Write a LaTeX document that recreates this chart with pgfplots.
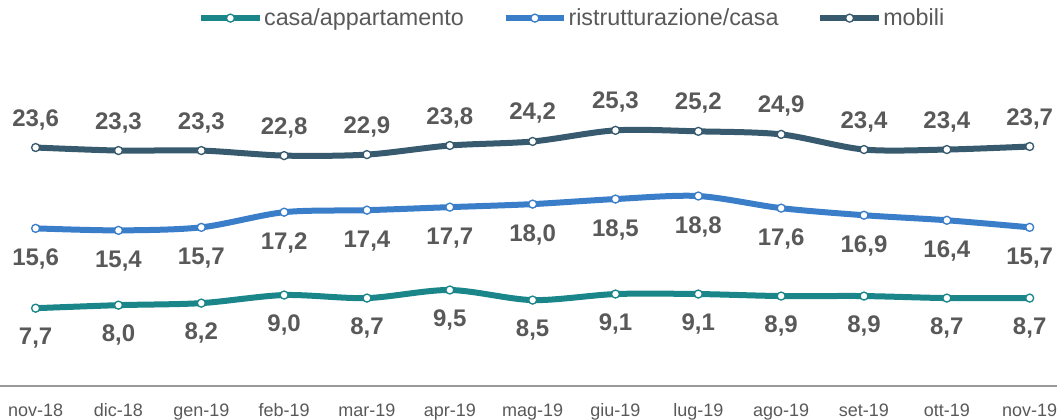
\documentclass[border=0pt]{standalone}
\usepackage{pgfplots}
\pgfplotsset{compat=1.18}
\usepackage{fontspec}
\setmainfont{Liberation Sans}
\definecolor{cTeal}{HTML}{1A868A}
\definecolor{cBlue}{HTML}{3A7DC9}
\definecolor{cDark}{HTML}{385A6E}
\definecolor{cText}{HTML}{595959}
\begin{document}
\begin{tikzpicture}[x=0.75pt,y=0.75pt]
\begin{axis}[
  at={(0,0)}, anchor=south west,
  scale only axis,
  width=792.75pt, height=289.5pt,
  xmin=-0.43, xmax=12.33,
  ymin=0, ymax=38.2,
  clip=false,
  axis y line=none,
  axis x line*=bottom,
  x axis line style={-, draw=gray!80, line width=1.3pt},
  xtick={0,...,12},
  xticklabels={nov-18,dic-18,gen-19,feb-19,mar-19,apr-19,mag-19,giu-19,lug-19,ago-19,set-19,ott-19,nov-19},
  major tick length=0pt,
  xticklabel style={font=\fontsize{13.5}{15}\selectfont, text=cText, anchor=base, yshift=-23pt},
  /pgf/number format/.cd, use comma, fixed, fixed zerofill, precision=1, assume math mode=true,
  /pgfplots/.cd,
  nodes near coords,
  every node near coord/.append style={font=\fontsize{18}{20}\selectfont\bfseries, text=cText, anchor=center},
  legend columns=3,
  legend style={at={(0.541,0.953)}, anchor=center, draw=none, fill=none,
    font=\fontsize{17.5}{19}\selectfont, text=cText,
    /tikz/every even column/.append style={column sep=28pt},
    nodes={inner sep=1pt},
    inner sep=0pt},
  legend image code/.code={\draw[#1, line width=4.5pt, mark repeat=2, mark phase=2] plot coordinates {(0pt,0pt) (22pt,0pt) (44pt,0pt)};},
  every axis plot/.append style={line width=4.5pt, smooth, mark=*, mark size=3pt},
]
\addplot[color=cTeal, mark options={draw=cTeal, fill=white, line width=1pt},
  every node near coord/.append style={yshift=-22.5pt}] coordinates {
 (0,7.7) (1,8.0) (2,8.2) (3,9.0) (4,8.7) (5,9.5) (6,8.5) (7,9.1) (8,9.1) (9,8.9) (10,8.9) (11,8.7) (12,8.7)};
\addlegendentry{casa/appartamento}
\addplot[color=cBlue, mark options={draw=cBlue, fill=white, line width=1pt},
  every node near coord/.append style={yshift=-23pt}] coordinates {
 (0,15.6) (1,15.4) (2,15.7) (3,17.2) (4,17.4) (5,17.7) (6,18.0) (7,18.5) (8,18.8) (9,17.6) (10,16.9) (11,16.4) (12,15.7)};
\addlegendentry{ristrutturazione/casa}
\addplot[color=cDark, mark options={draw=cDark, fill=white, line width=1pt},
  every node near coord/.append style={yshift=21pt}] coordinates {
 (0,23.6) (1,23.3) (2,23.3) (3,22.8) (4,22.9) (5,23.8) (6,24.2) (7,25.3) (8,25.2) (9,24.9) (10,23.4) (11,23.4) (12,23.7)};
\addlegendentry{mobili}
\end{axis}
\pgfresetboundingbox
\path (0,-34) rectangle (1057,386);
\end{tikzpicture}
\end{document}
